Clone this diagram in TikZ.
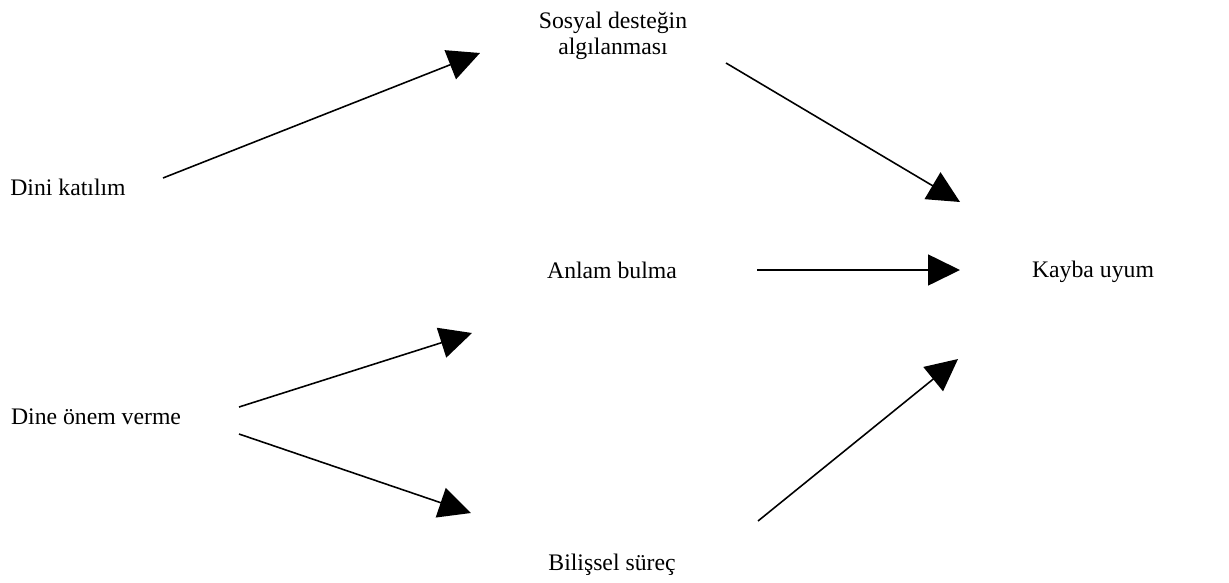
\documentclass[tikz,border=0pt]{standalone}
\usepackage{fontspec}
\setmainfont{Liberation Serif}
\usetikzlibrary{arrows.meta,positioning,calc}
\tikzset{
  factor/.style={inner sep=0pt, align=center,
    font=\fontsize{13.5}{14.8}\selectfont},
  arrow/.style={-{Triangle[length=0.64cm,width=0.62cm]}, line width=0.9pt, black}
}

\begin{document}
\begin{tikzpicture}[x=0.02cm,y=-0.02cm]
  \useasboundingbox (0,0) rectangle (1229,582);
  \node[factor] (dini) at (68,187) {Dini katılım};
  \node[factor] (dine) at (96,417) {Dine önem verme};
  \node[factor] (sosyal) at (613,36) {Sosyal desteğin\\algılanması};
  \node[factor] (anlam) at (612,270) {Anlam bulma};
  \node[factor] (bilissel) at (612,565) {Bilişsel süreç};
  \node[factor] (kayba) at (1093,272) {Kayba uyum};
  \draw[arrow] ([shift={(95,-9)}]dini.center) -- ([shift={(-133,17)}]sosyal.center);
  \draw[arrow] ([shift={(113,27)}]sosyal.center) -- ([shift={(-133,-70)}]kayba.center);
  \draw[arrow] ([shift={(145,0)}]anlam.center) -- ([shift={(-133,-2)}]kayba.center);
  \draw[arrow] ([shift={(143,-10)}]dine.center) -- ([shift={(-140,63)}]anlam.center);
  \draw[arrow] ([shift={(143,17)}]dine.center) -- ([shift={(-141,-52)}]bilissel.center);
  \draw[arrow] ([shift={(146,-44)}]bilissel.center) -- ([shift={(-135,87)}]kayba.center);
\end{tikzpicture}
\end{document}
